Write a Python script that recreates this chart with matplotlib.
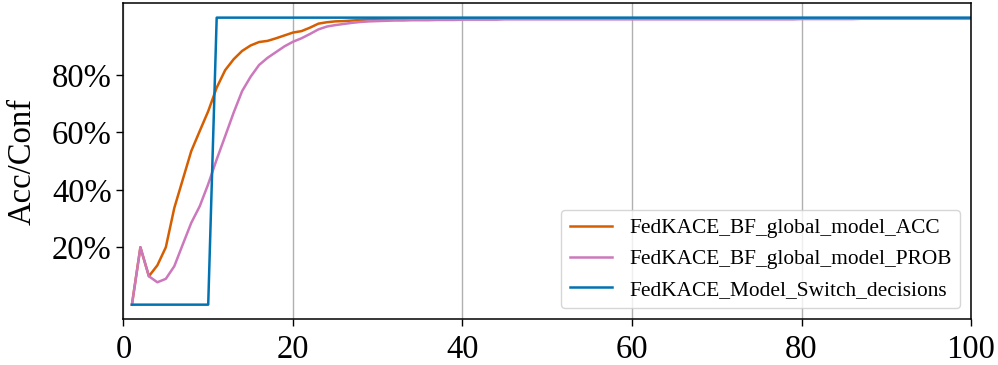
import matplotlib
matplotlib.use("Agg")
import matplotlib.pyplot as plt
from matplotlib.ticker import PercentFormatter

plt.rcParams["font.family"] = ["Liberation Serif", "DejaVu Serif"]

rounds = list(range(1, 101))

acc = [
    0.000, 0.200, 0.099, 0.137, 0.200, 0.337, 0.436, 0.535, 0.605, 0.674,
    0.756, 0.817, 0.855, 0.884, 0.903, 0.915, 0.919, 0.928, 0.938, 0.948,
    0.953, 0.965, 0.979, 0.984, 0.987, 0.988, 0.990, 0.992, 0.994, 0.995,
    0.995, 0.996, 0.996, 0.996, 0.997, 0.997, 0.997, 0.997, 0.997, 0.997,
    0.997, 0.997, 0.997, 0.997, 0.997, 0.997, 0.997, 0.997, 0.997, 0.997,
    0.997, 0.997, 0.997, 0.997, 0.997, 0.997, 0.997, 0.997, 0.997, 0.997,
    0.997, 0.997, 0.997, 0.997, 0.997, 0.997, 0.997, 0.997, 0.997, 0.997,
    0.997, 0.997, 0.997, 0.997, 0.997, 0.997, 0.997, 0.997, 0.997, 0.997,
    0.997, 0.997, 0.997, 0.997, 0.997, 0.997, 0.997, 0.997, 0.997, 0.997,
    0.997, 0.997, 0.997, 0.997, 0.997, 0.997, 0.997, 0.997, 0.997, 0.997,
]

prob = [
    0.000, 0.200, 0.099, 0.078, 0.090, 0.134, 0.210, 0.285, 0.343, 0.420,
    0.506, 0.587, 0.669, 0.744, 0.794, 0.835, 0.860, 0.880, 0.900, 0.916,
    0.928, 0.943, 0.959, 0.969, 0.974, 0.978, 0.982, 0.985, 0.987, 0.988,
    0.989, 0.990, 0.990, 0.991, 0.991, 0.991, 0.992, 0.992, 0.992, 0.993,
    0.993, 0.993, 0.993, 0.993, 0.994, 0.994, 0.994, 0.994, 0.994, 0.994,
    0.994, 0.994, 0.994, 0.994, 0.994, 0.994, 0.994, 0.994, 0.994, 0.994,
    0.994, 0.994, 0.994, 0.994, 0.994, 0.994, 0.994, 0.994, 0.994, 0.994,
    0.994, 0.994, 0.994, 0.994, 0.994, 0.994, 0.994, 0.994, 0.994, 0.995,
    0.995, 0.995, 0.995, 0.995, 0.995, 0.995, 0.996, 0.996, 0.996, 0.996,
    0.996, 0.996, 0.996, 0.996, 0.996, 0.996, 0.996, 0.996, 0.996, 0.996,
]

switch = [
    0, 0, 0, 0, 0, 0, 0, 0, 0, 0,
    1, 1, 1, 1, 1, 1, 1, 1, 1, 1,
    1, 1, 1, 1, 1, 1, 1, 1, 1, 1,
    1, 1, 1, 1, 1, 1, 1, 1, 1, 1,
    1, 1, 1, 1, 1, 1, 1, 1, 1, 1,
    1, 1, 1, 1, 1, 1, 1, 1, 1, 1,
    1, 1, 1, 1, 1, 1, 1, 1, 1, 1,
    1, 1, 1, 1, 1, 1, 1, 1, 1, 1,
    1, 1, 1, 1, 1, 1, 1, 1, 1, 1,
    1, 1, 1, 1, 1, 1, 1, 1, 1, 1,
]

y_ticks = [0.2, 0.4, 0.6, 0.8]

fig = plt.figure(figsize=(9.98, 3.65), dpi=100)
ax = fig.add_axes([0.1237, 0.126, 0.8493, 0.865])

ax.plot(rounds, acc, color="#d55e00", lw=1.8, label="FedKACE_BF_global_model_ACC")
ax.plot(rounds, prob, color="#cc78bc", lw=1.8, label="FedKACE_BF_global_model_PROB")
ax.plot(rounds, switch, color="#0173b2", lw=1.8, label="FedKACE_Model_Switch_decisions")

ax.set_xlim(0, 100)
ax.set_ylim(-0.05, 1.05)
ax.set_yticks(y_ticks)
ax.yaxis.set_major_formatter(PercentFormatter(1.0, decimals=0))
ax.set_xticks([0, 20, 40, 60, 80, 100])
ax.tick_params(labelsize=23.5, width=1.0, length=5)
ax.tick_params(axis="x", pad=6)
ax.set_ylabel("Acc/Conf", fontsize=23.5, labelpad=10)
ax.grid(axis="x", color="#b0b0b0", lw=1.0)
for s in ax.spines.values():
    s.set_linewidth(1.1)

ax.legend(loc="lower right", fontsize=15.4, borderaxespad=0.5)

fig.savefig("out.png", dpi=100)
